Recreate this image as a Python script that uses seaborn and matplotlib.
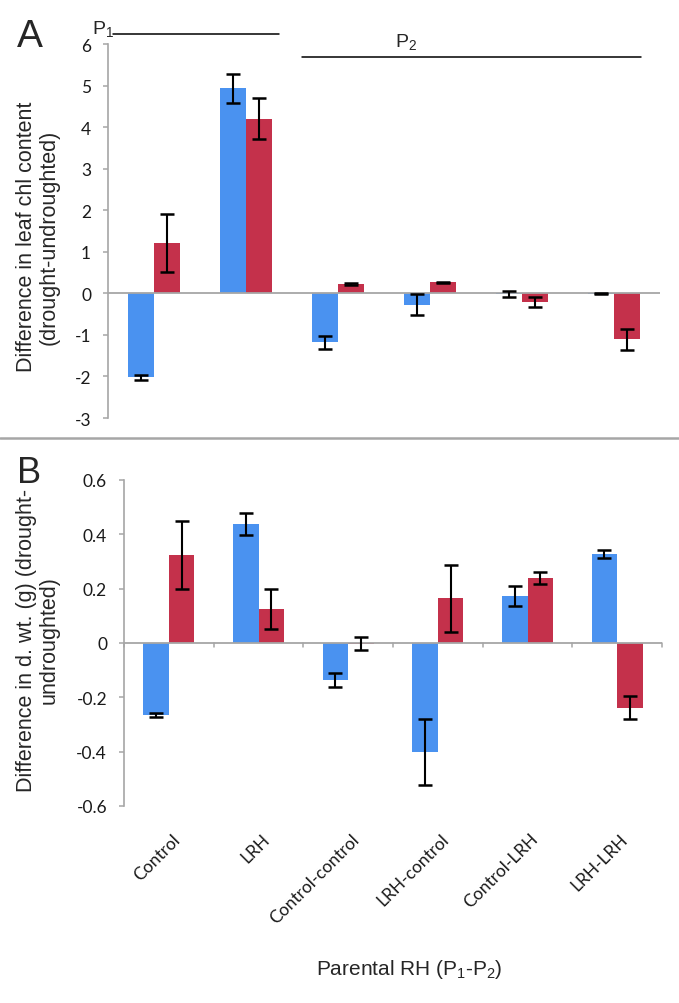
import matplotlib
matplotlib.use("Agg")
import matplotlib.pyplot as plt
import seaborn as sns
import pandas as pd
import numpy as np
from matplotlib.lines import Line2D

# ---------------- data ----------------
categories = ["Control", "LRH", "Control-control", "LRH-control", "Control-LRH", "LRH-LRH"]
series_names = ["Series 1", "Series 2"]

chl_s1 = [-2.02, 4.93, -1.18, -0.27, -0.02, -0.01]
chl_s1_err = [0.06, 0.34, 0.15, 0.25, 0.08, 0.01]
chl_s2 = [1.22, 4.20, 0.22, 0.27, -0.21, -1.11]
chl_s2_err = [0.70, 0.49, 0.02, 0.01, 0.11, 0.25]

dwt_s1 = [-0.265, 0.437, -0.137, -0.402, 0.174, 0.328]
dwt_s1_err = [0.008, 0.040, 0.025, 0.122, 0.036, 0.015]
dwt_s2 = [0.323, 0.126, -0.003, 0.164, 0.238, -0.238]
dwt_s2_err = [0.125, 0.074, 0.024, 0.122, 0.022, 0.043]

a_ticks = [6, 5, 4, 3, 2, 1, 0, -1, -2, -3]
a_ticklabels = ["6", "5", "4", "3", "2", "1", "0", "-1", "-2", "-3"]
b_ticks = [0.6, 0.4, 0.2, 0.0, -0.2, -0.4, -0.6]
b_ticklabels = ["0.6", "0.4", "0.2", "0", "-0.2", "-0.4", "-0.6"]

BLUE = "#4A92F0"
RED = "#C4314B"
GREY = "#A6A6A6"
TICKFONT = ["Lato", "DejaVu Sans"]

sns.set_theme(style="white")
plt.rcParams["font.family"] = ["Liberation Sans", "DejaVu Sans"]
plt.rcParams["axes.unicode_minus"] = False
plt.rcParams["mathtext.fontset"] = "custom"
plt.rcParams["mathtext.rm"] = "Liberation Sans"
plt.rcParams["mathtext.default"] = "regular"

W, H = 679, 1004
fig = plt.figure(figsize=(W / 100, H / 100), dpi=100)


def frac_box(left, right, top, bottom):
    return [left / W, 1 - bottom / H, (right - left) / W, (bottom - top) / H]


axA = fig.add_axes(frac_box(108, 660, 45, 419))
axB = fig.add_axes(frac_box(124, 662, 481, 807))


def make_df(v1, v2):
    return pd.DataFrame({
        "cat": categories * 2,
        "val": list(v1) + list(v2),
        "series": [series_names[0]] * len(categories) + [series_names[1]] * len(categories),
    })


def draw(ax, v1, e1, v2, e2):
    df = make_df(v1, v2)
    sns.barplot(data=df, x="cat", y="val", hue="series", order=categories,
                hue_order=series_names, palette=[BLUE, RED], width=0.57,
                saturation=1, errorbar=None, linewidth=0, legend=False, ax=ax)
    for cont, errs in zip(ax.containers, [e1, e2]):
        for patch, err in zip(cont.patches, errs):
            xc = patch.get_x() + patch.get_width() / 2
            yv = patch.get_y() + patch.get_height()
            ax.errorbar(xc, yv, yerr=err, fmt="none", ecolor="black",
                        elinewidth=1.5, capsize=5, capthick=1.8, zorder=5)
    ax.axhline(0, color=GREY, lw=1.3, zorder=1)
    ax.set_xlim(-0.5, len(categories) - 0.5)
    for s in ["top", "right", "bottom"]:
        ax.spines[s].set_visible(False)
    ax.spines["left"].set_color(GREY)
    ax.spines["left"].set_linewidth(1.2)
    ax.tick_params(axis="y", which="both", left=True, length=3.6, width=1.1,
                   color=GREY, labelsize=12.5, labelcolor="#1a1a1a", pad=8.6)
    ax.set_xticks([])
    ax.set_xlabel("")
    ax.set_ylabel("")


# ---- Panel A ----
draw(axA, chl_s1, chl_s1_err, chl_s2, chl_s2_err)
axA.set_ylim(-3, 6)
axA.set_yticks(a_ticks)
axA.set_yticklabels(a_ticklabels, family=TICKFONT)

# P1 / P2 brackets
axA.plot([-0.45, 1.36], [6.24, 6.24], color="black", lw=1.1, clip_on=False)
axA.text(-0.67, 6.27, "P$_1$", fontsize=14, ha="left", va="baseline", clip_on=False)
axA.plot([1.61, 5.29], [5.69, 5.69], color="black", lw=1.1, clip_on=False)
axA.text(2.62, 5.96, "P$_2$", fontsize=14, ha="left", va="baseline")

# ---- Panel B ----
draw(axB, dwt_s1, dwt_s1_err, dwt_s2, dwt_s2_err)
axB.set_ylim(-0.6, 0.6)
axB.set_yticks(b_ticks)
axB.set_yticklabels(b_ticklabels, family=TICKFONT)
# small downward ticks on the zero line at category boundaries
for b in np.arange(-0.5, len(categories), 1.0):
    axB.plot([b, b], [0, -0.015], color=GREY, lw=1.1, clip_on=False, zorder=1)

# category labels under panel B
for i, c in enumerate(categories):
    axB.text(i + 0.03, -0.075, c, transform=axB.get_xaxis_transform(),
             rotation=45, ha="right", va="top", rotation_mode="anchor",
             fontsize=12.5, family=TICKFONT, color="#1a1a1a")

# axis labels
fig.text(38 / W, 1 - 237 / H, "Difference in leaf chl content\n(drought-undroughted)",
         rotation=90, ha="center", va="center", multialignment="center",
         fontsize=15.5, linespacing=1.1)
fig.text(38 / W, 1 - 640 / H, "Difference in d. wt. (g) (drought-\nundroughted)",
         rotation=90, ha="center", va="center", multialignment="center",
         fontsize=15.5, linespacing=1.1)
fig.text(409 / W, 1 - 975 / H, "Parental RH (P$_1$-P$_2$)", ha="center", va="baseline",
         fontsize=15)

# panel letters
fig.text(17 / W, 1 - 47 / H, "A", fontsize=28, ha="left", va="baseline")
fig.text(17 / W, 1 - 483 / H, "B", fontsize=26, ha="left", va="baseline")

# divider
fig.add_artist(Line2D([0, 1], [1 - 439 / H, 1 - 439 / H], color=GREY, lw=1.8,
                      transform=fig.transFigure))

fig.savefig("out.png", dpi=100)
